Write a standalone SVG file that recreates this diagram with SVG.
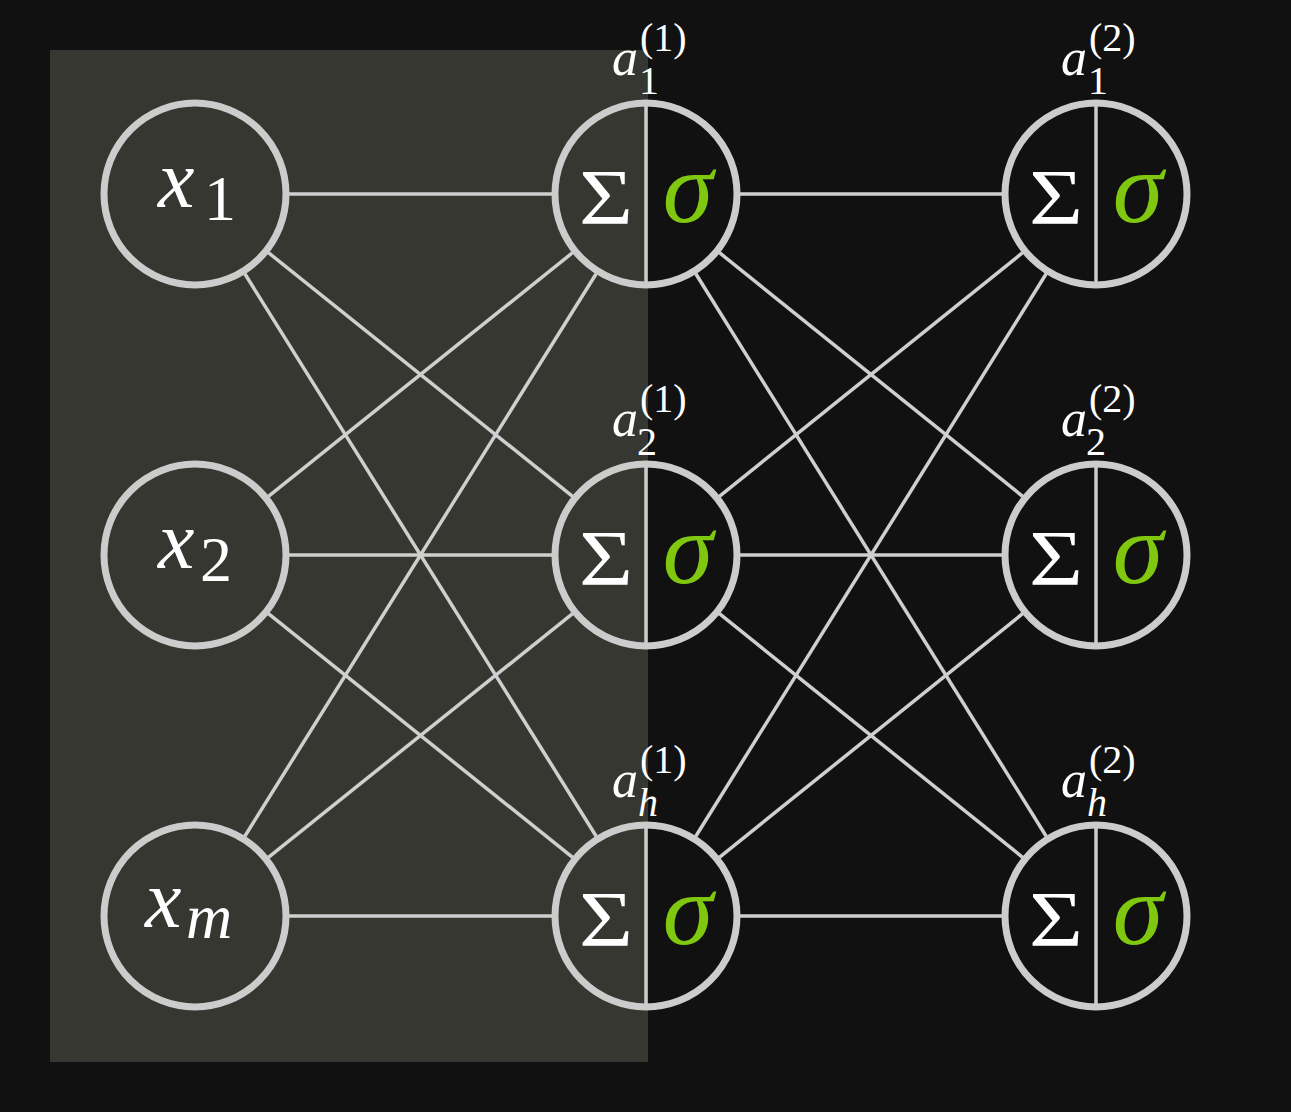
<svg xmlns="http://www.w3.org/2000/svg" width="1291" height="1112" viewBox="0 0 1291 1112">
<style>
.edge{stroke:#cfcfcf;stroke-width:3.5;fill:none}
.ring{fill:none;stroke:#cccccc;stroke-width:7}
.div{stroke:#cccccc;stroke-width:3.5}
text{fill:#ffffff;font-family:"Liberation Serif",serif}
.i{font-style:italic}
.sig{font-style:italic;fill:#80c80f;font-size:102px;text-anchor:middle}
.Sig{font-size:78px;text-anchor:middle}
.lb{font-size:52px}
.sc{font-size:40px}
</style>
<rect x="0" y="0" width="1291" height="1112" fill="#111111"/>
<rect x="50" y="50" width="598" height="1012" fill="#353730"/>
<g id="connectors">
<line class="edge" x1="289" y1="194" x2="552" y2="194"/>
<line class="edge" x1="268.4" y1="252.7" x2="572.6" y2="496.3"/>
<line class="edge" x1="244.8" y1="273.7" x2="596.2" y2="836.3"/>
<line class="edge" x1="268.4" y1="496.3" x2="572.6" y2="252.7"/>
<line class="edge" x1="289" y1="555" x2="552" y2="555"/>
<line class="edge" x1="268.4" y1="613.7" x2="572.6" y2="857.3"/>
<line class="edge" x1="244.8" y1="836.3" x2="596.2" y2="273.7"/>
<line class="edge" x1="268.4" y1="857.3" x2="572.6" y2="613.7"/>
<line class="edge" x1="289" y1="916" x2="552" y2="916"/>
<line class="edge" x1="740" y1="194" x2="1002" y2="194"/>
<line class="edge" x1="719.4" y1="252.7" x2="1022.6" y2="496.3"/>
<line class="edge" x1="695.8" y1="273.7" x2="1046.2" y2="836.3"/>
<line class="edge" x1="719.4" y1="496.3" x2="1022.6" y2="252.7"/>
<line class="edge" x1="740" y1="555" x2="1002" y2="555"/>
<line class="edge" x1="719.4" y1="613.7" x2="1022.6" y2="857.3"/>
<line class="edge" x1="695.8" y1="836.3" x2="1046.2" y2="273.7"/>
<line class="edge" x1="719.4" y1="857.3" x2="1022.6" y2="613.7"/>
<line class="edge" x1="740" y1="916" x2="1002" y2="916"/>
</g>
<g id="x1">
<circle class="ring" cx="195" cy="194" r="91"/>
<text class="i" x="158" y="207" font-size="82">x</text>
<text x="204" y="220" font-size="64">1</text>
</g>
<g id="x2">
<circle class="ring" cx="195" cy="555" r="91"/>
<text class="i" x="158" y="568" font-size="82">x</text>
<text x="200" y="581" font-size="64">2</text>
</g>
<g id="xm">
<circle class="ring" cx="195" cy="916" r="91"/>
<text class="i" x="145" y="927" font-size="82">x</text>
<text class="i" x="186" y="938" font-size="64">m</text>
</g>
<g id="h1_1">
<circle class="ring" cx="646" cy="194" r="91"/>
<line class="div" x1="646" y1="106" x2="646" y2="282"/>
<text class="Sig" x="606" y="223" textLength="54" lengthAdjust="spacingAndGlyphs">Σ</text>
<text class="sig" x="688" y="222">σ</text>
<text class="i lb" x="612" y="75">a</text>
<text class="sc" x="639" y="94">1</text>
<text class="sc" x="640" y="51">(1)</text>
</g>
<g id="h1_2">
<circle class="ring" cx="646" cy="555" r="91"/>
<line class="div" x1="646" y1="467" x2="646" y2="643"/>
<text class="Sig" x="606" y="584" textLength="54" lengthAdjust="spacingAndGlyphs">Σ</text>
<text class="sig" x="688" y="583">σ</text>
<text class="i lb" x="612" y="436">a</text>
<text class="sc" x="637" y="455">2</text>
<text class="sc" x="640" y="412">(1)</text>
</g>
<g id="h1_h">
<circle class="ring" cx="646" cy="916" r="91"/>
<line class="div" x1="646" y1="828" x2="646" y2="1004"/>
<text class="Sig" x="606" y="945" textLength="54" lengthAdjust="spacingAndGlyphs">Σ</text>
<text class="sig" x="688" y="944">σ</text>
<text class="i lb" x="612" y="797">a</text>
<text class="i sc" x="638" y="816">h</text>
<text class="sc" x="640" y="773">(1)</text>
</g>
<g id="h2_1">
<circle class="ring" cx="1096" cy="194" r="91"/>
<line class="div" x1="1096" y1="106" x2="1096" y2="282"/>
<text class="Sig" x="1056" y="223" textLength="54" lengthAdjust="spacingAndGlyphs">Σ</text>
<text class="sig" x="1138" y="222">σ</text>
<text class="i lb" x="1061" y="75">a</text>
<text class="sc" x="1088" y="94">1</text>
<text class="sc" x="1089" y="51">(2)</text>
</g>
<g id="h2_2">
<circle class="ring" cx="1096" cy="555" r="91"/>
<line class="div" x1="1096" y1="467" x2="1096" y2="643"/>
<text class="Sig" x="1056" y="584" textLength="54" lengthAdjust="spacingAndGlyphs">Σ</text>
<text class="sig" x="1138" y="583">σ</text>
<text class="i lb" x="1061" y="436">a</text>
<text class="sc" x="1086" y="455">2</text>
<text class="sc" x="1089" y="412">(2)</text>
</g>
<g id="h2_h">
<circle class="ring" cx="1096" cy="916" r="91"/>
<line class="div" x1="1096" y1="828" x2="1096" y2="1004"/>
<text class="Sig" x="1056" y="945" textLength="54" lengthAdjust="spacingAndGlyphs">Σ</text>
<text class="sig" x="1138" y="944">σ</text>
<text class="i lb" x="1061" y="797">a</text>
<text class="i sc" x="1087" y="816">h</text>
<text class="sc" x="1089" y="773">(2)</text>
</g>
</svg>
